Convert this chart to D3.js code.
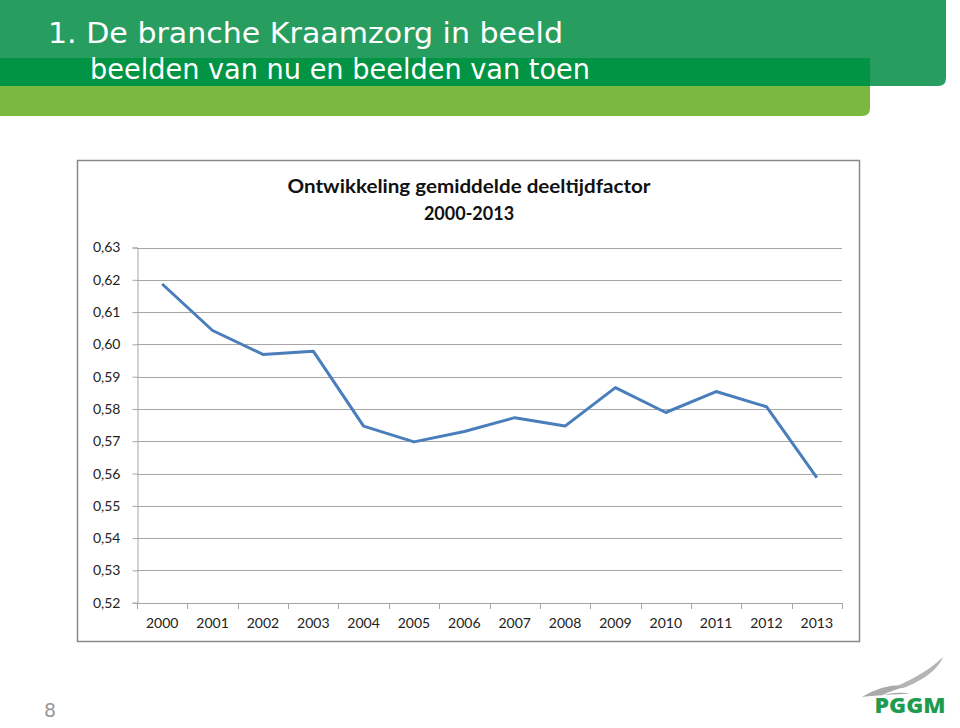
<!DOCTYPE html>
<html><head><meta charset="utf-8">
<script src="https://cdn.jsdelivr.net/npm/d3@7"></script>
<style>body{margin:0;background:#fff;}svg{display:block;}</style>
</head><body>
<svg id="c" width="960" height="728"></svg>
<script>
const years = ["2000","2001","2002","2003","2004","2005","2006","2007","2008","2009","2010","2011","2012","2013"];
const factor = [0.6187,0.6043,0.5969,0.5979,0.5747,0.5698,0.5730,0.5773,0.5747,0.5866,0.5789,0.5854,0.5807,0.5587];
const yTicks = [0.52,0.53,0.54,0.55,0.56,0.57,0.58,0.59,0.60,0.61,0.62,0.63];
const headerTitle = "1. De branche Kraamzorg in beeld";
const headerSub = "beelden van nu en beelden van toen";
const chartTitle = ["Ontwikkeling gemiddelde deeltijdfactor","2000-2013"];

const svg = d3.select("#c");

// header bands
function roundBR(x0,y0,x1,y1,r){return `M${x0},${y0}H${x1}V${y1-r}Q${x1},${y1} ${x1-r},${y1}H${x0}Z`;}
svg.append("path").attr("d",roundBR(0,86,870,116,8)).attr("fill","#7ab83f");
svg.append("path").attr("d",roundBR(0,0,946,86,8)).attr("fill","#279e60");
svg.append("rect").attr("x",0).attr("y",58).attr("width",870).attr("height",28).attr("fill","#009444");
svg.append("text").attr("x",48).attr("y",43).attr("fill","#fff")
  .style("font-family","'DejaVu Sans',sans-serif").style("font-size","29px")
  .attr("textLength",515).attr("lengthAdjust","spacingAndGlyphs").text(headerTitle);
svg.append("text").attr("x",90).attr("y",79).attr("fill","#fff")
  .style("font-family","'DejaVu Sans',sans-serif").style("font-size","28px")
  .attr("textLength",500).attr("lengthAdjust","spacingAndGlyphs").text(headerSub);

// chart frame
svg.append("rect").attr("x",77.5).attr("y",160.5).attr("width",782).attr("height",481)
  .attr("fill","#fff").attr("stroke","#8a8a8a").attr("stroke-width",1.5);

const x = d3.scaleBand().domain(years).range([137,842]);
const y = d3.scaleLinear().domain([0.52,0.63]).range([602.7,247.5]);
const fmt = v => d3.format(".2f")(v).replace(".",",");
const tickFont = "Lato, 'Open Sans', sans-serif";

// gridlines
svg.append("g").selectAll("line").data(yTicks.slice(1)).join("line")
  .attr("x1",137).attr("x2",842).attr("y1",d=>Math.round(y(d))+0.5).attr("y2",d=>Math.round(y(d))+0.5)
  .attr("stroke","#a6a6a6").attr("stroke-width",1.2);

// y axis
const ya = svg.append("g").attr("transform","translate(137.5,0)")
  .call(d3.axisLeft(y).tickValues(yTicks).tickFormat(fmt).tickSize(5).tickPadding(12));
ya.selectAll("path,line").attr("stroke","#a6a6a6");
ya.selectAll("text").style("font-family",tickFont).style("font-size","14px").attr("fill","#222");

// x axis
const xa = svg.append("g").attr("transform","translate(0,603)")
  .call(d3.axisBottom(x).tickSize(0).tickPadding(15));
xa.select("path").attr("stroke","#a6a6a6").attr("stroke-width",1.2);
xa.selectAll("text").style("font-family",tickFont).style("font-size","14px").attr("fill","#222");
svg.append("g").selectAll("line").data(years.concat(["end"])).join("line")
  .attr("x1",(d,i)=>Math.round(137+i*x.step())+0.5).attr("x2",(d,i)=>Math.round(137+i*x.step())+0.5)
  .attr("y1",603).attr("y2",609).attr("stroke","#a6a6a6");

// line
svg.append("path").datum(factor)
  .attr("d",d3.line().x((d,i)=>x(years[i])+x.bandwidth()/2).y(d=>y(d)))
  .attr("fill","none").attr("stroke","#4a7ebb").attr("stroke-width",3).attr("stroke-linejoin","round");

// chart title
svg.append("text").attr("x",469).attr("y",193).attr("text-anchor","middle")
  .style("font-family",tickFont).style("font-weight","bold").style("font-size","18px").attr("fill","#111")
  .attr("textLength",363).attr("lengthAdjust","spacingAndGlyphs").text(chartTitle[0]);
svg.append("text").attr("x",469).attr("y",220).attr("text-anchor","middle")
  .style("font-family",tickFont).style("font-weight","bold").style("font-size","18px").attr("fill","#111")
  .text(chartTitle[1]);

// page number
svg.append("text").attr("x",50).attr("y",717).attr("text-anchor","middle")
  .style("font-family","'DejaVu Sans',sans-serif").style("font-size","19px").attr("fill","#999").text("8");

// logo
svg.append("path").attr("d","M862,697 C880,686 897,684 908,686 C897,689 888,692 880,696 C892,692 902,692 910,694 C895,694 880,695 862,697 Z")
  .attr("fill","#aaa");
svg.append("path").attr("d","M897,686 C915,678 932,668 943,657 C938,670 922,681 903,688 Z").attr("fill","#b5b5b5");
svg.append("text").attr("x",910).attr("y",713).attr("text-anchor","middle")
  .style("font-family","'Open Sans',sans-serif").style("font-weight","800").style("font-size","21px")
  .attr("fill","#1f9b4f").attr("textLength",71).attr("lengthAdjust","spacingAndGlyphs").text("PGGM");
</script>
</body></html>
